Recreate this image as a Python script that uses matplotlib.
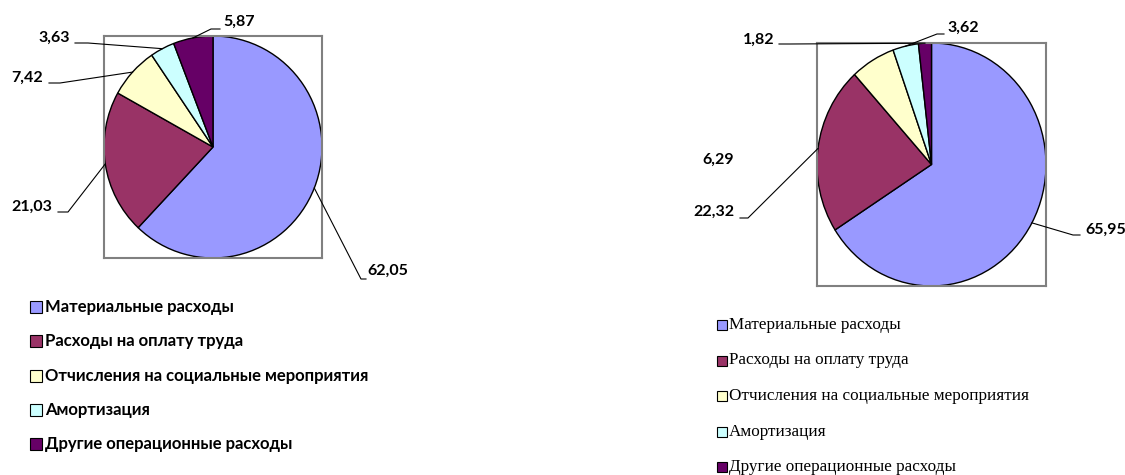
import matplotlib
matplotlib.use("Agg")
import matplotlib.pyplot as plt
from matplotlib.lines import Line2D
from matplotlib.patches import Rectangle
import numpy as np

# ---------- data ----------
categories = ["Материальные расходы", "Расходы на оплату труда",
              "Отчисления на социальные мероприятия", "Амортизация",
              "Другие операционные расходы"]
values_left = [62.05, 21.03, 7.42, 3.63, 5.87]
values_right = [65.95, 22.32, 6.29, 3.62, 1.82]
colors = ["#9999FF", "#993366", "#FFFFCC", "#CCFFFF", "#660066"]

W, H = 1125, 475
fig = plt.figure(figsize=(W / 100, H / 100), dpi=100)


def fx(x):
    return x / W


def fy(y):
    return 1 - y / H


def draw_pie(box, values):
    x0, y0, x1, y1 = box
    ax = fig.add_axes([fx(x0), fy(y1), fx(x1 - x0), (y1 - y0) / H])
    wedges, _ = ax.pie(values, colors=colors, startangle=90, counterclock=False,
                       radius=1, wedgeprops=dict(edgecolor="black", linewidth=1))
    ax.set_aspect("auto")
    ax.set_xlim(-1, 1)
    ax.set_ylim(-1, 1)
    ax.set_frame_on(True)
    for s in ax.spines.values():
        s.set_edgecolor("#808080")
        s.set_linewidth(1.5)
    return ax, wedges


def anchor_px(ax, wedge):
    mid = np.deg2rad((wedge.theta1 + wedge.theta2) / 2)
    dx, dy = ax.transData.transform((np.cos(mid), np.sin(mid)))
    return dx, H - dy


def fmt(v):
    return f"{v:.2f}".replace(".", ",")


def label(ax, wedge, value, text_xy, ha, path=None):
    if path is not None:
        ax_, ay_ = anchor_px(ax, wedge)
        xs = [ax_] + [p[0] for p in path]
        ys = [ay_] + [p[1] for p in path]
        fig.add_artist(Line2D([fx(x) for x in xs], [fy(y) for y in ys],
                              color="black", linewidth=0.8))
    fig.text(fx(text_xy[0]), fy(text_xy[1]), fmt(value), ha=ha, va="center",
             fontsize=11.5, fontweight="bold", family="Lato")


# ---------- left pie ----------
axl, wl = draw_pie((104, 36, 322, 258), values_left)
label(axl, wl[0], values_left[0], (367, 271), "left", [(361, 279), (366, 279)])
label(axl, wl[1], values_left[1], (52, 207), "right", [(68, 212), (58, 212)])
label(axl, wl[2], values_left[2], (43, 78), "right", [(60, 83), (49, 83)])
label(axl, wl[3], values_left[3], (70, 38), "right", [(88, 43), (75, 43)])
label(axl, wl[4], values_left[4], (223, 22), "left", [(211, 29), (220, 29)])

# ---------- right pie ----------
axr, wr = draw_pie((817, 43, 1046, 286), values_right)
label(axr, wr[0], values_right[0], (1085, 230), "left", [(1073, 235), (1080, 235)])
label(axr, wr[1], values_right[1], (735, 212), "right", [(748, 218), (740, 218)])
label(axr, wr[2], values_right[2], (702, 160), "left")
label(axr, wr[3], values_right[3], (947, 28), "left", [(937, 34), (944, 34)])
label(axr, wr[4], values_right[4], (775, 40), "right", [(790, 44), (779, 44)])

# ---------- legends ----------
for i, (cat, col) in enumerate(zip(categories, colors)):
    y = 307 + i * 34.3
    fig.add_artist(Rectangle((fx(30), fy(y + 6)), fx(12), 12 / H, facecolor=col,
                             edgecolor="black", linewidth=0.8, transform=fig.transFigure))
    fig.text(fx(45), fy(y), cat, ha="left", va="center", fontsize=12,
             fontweight="bold", family="Lato")

for i, (cat, col) in enumerate(zip(categories, colors)):
    y = 325 + i * 35.5
    fig.add_artist(Rectangle((fx(717), fy(y + 5)), fx(10), 10 / H, facecolor=col,
                             edgecolor="black", linewidth=0.8, transform=fig.transFigure))
    fig.text(fx(729), fy(y), cat, ha="left", va="center", fontsize=12.3,
             family="Liberation Serif")

fig.savefig("out.png", dpi=100, facecolor="white")
